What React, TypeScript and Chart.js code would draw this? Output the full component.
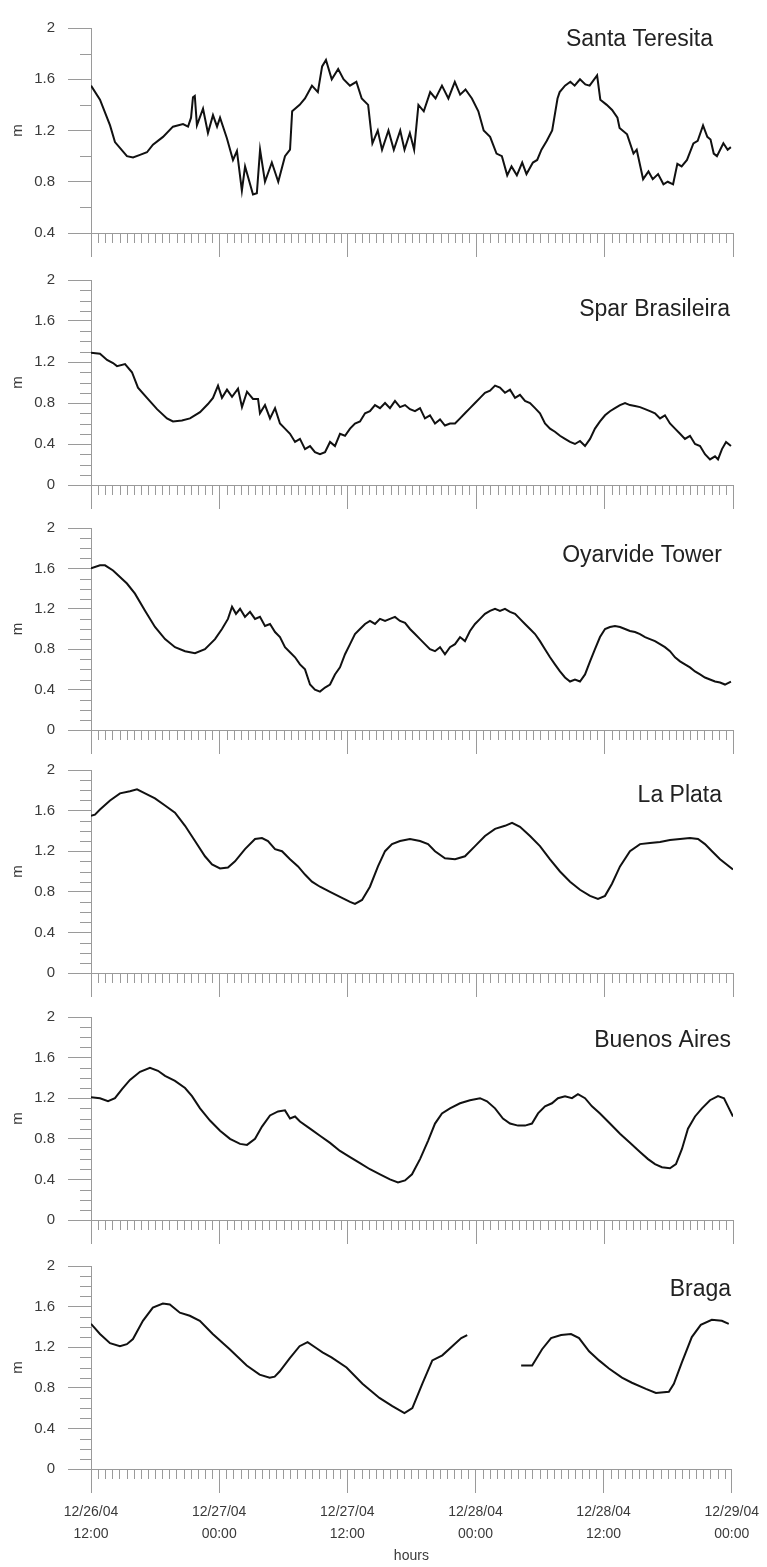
import React, { useEffect, useRef } from "react";
import { Chart, registerables } from "chart.js";

Chart.register(...registerables);

// ---------- data ----------
const X_TICK_HOURS = [0, 12, 24, 36, 48, 60];
const X_LABELS = [
  ["12/26/04", "12:00"],
  ["12/27/04", "00:00"],
  ["12/27/04", "12:00"],
  ["12/28/04", "00:00"],
  ["12/28/04", "12:00"],
  ["12/29/04", "00:00"],
];
const X_TITLE = "hours";
const Y_TITLE = "m";

const ST_H = [0, 0.84, 1.78, 2.24, 3.36, 3.93, 4.58, 5.23, 5.79, 6.73, 7.66, 8.6, 9.07, 9.35, 9.53, 9.7, 9.9, 10.47, 10.93, 11.4, 11.78, 12.06, 12.7, 13.27, 13.64, 14.1, 14.4, 15.14, 15.5, 15.8, 16.26, 16.9, 17.5, 18.13, 18.6, 18.8, 19.5, 20.0, 20.65, 21.2, 21.6, 21.96, 22.5, 23.1, 23.6, 24.2, 24.8, 25.3, 25.9, 26.3, 26.8, 27.2, 27.8, 28.3, 28.9, 29.3, 29.8, 30.2, 30.6, 31.1, 31.7, 32.2, 32.8, 33.4, 34.0, 34.5, 35.0, 35.6, 36.2, 36.7, 37.3, 37.9, 38.4, 38.9, 39.3, 39.8, 40.3, 40.7, 41.3, 41.7, 42.1, 42.6, 43.1, 43.6, 43.8, 44.3, 44.8, 45.2, 45.7, 46.2, 46.6, 47.3, 47.6, 48.2, 48.7, 49.2, 49.4, 50.1, 50.7, 51.0, 51.6, 52.1, 52.5, 53.0, 53.5, 53.9, 54.4, 54.8, 55.2, 55.7, 56.3, 56.7, 57.2, 57.6, 57.9, 58.2, 58.5, 59.1, 59.5, 59.8];
const ST_M = [1.55, 1.44, 1.24, 1.11, 1.0, 0.99, 1.01, 1.03, 1.09, 1.15, 1.23, 1.25, 1.23, 1.30, 1.46, 1.47, 1.24, 1.37, 1.18, 1.32, 1.23, 1.30, 1.14, 0.97, 1.04, 0.73, 0.92, 0.70, 0.71, 1.05, 0.80, 0.95, 0.80, 1.0, 1.05, 1.35, 1.40, 1.45, 1.55, 1.50, 1.70, 1.75, 1.60, 1.68, 1.60, 1.55, 1.58, 1.45, 1.40, 1.10, 1.20, 1.05, 1.20, 1.05, 1.20, 1.05, 1.18, 1.05, 1.40, 1.35, 1.50, 1.45, 1.55, 1.45, 1.58, 1.48, 1.52, 1.45, 1.35, 1.20, 1.15, 1.02, 1.0, 0.85, 0.92, 0.85, 0.95, 0.86, 0.95, 0.97, 1.05, 1.12, 1.2, 1.45, 1.5, 1.55, 1.58, 1.55, 1.6, 1.56, 1.55, 1.63, 1.44, 1.40, 1.36, 1.30, 1.22, 1.17, 1.02, 1.05, 0.82, 0.88, 0.82, 0.86, 0.78, 0.80, 0.78, 0.94, 0.92, 0.97, 1.1, 1.12, 1.24, 1.15, 1.13, 1.02, 1.0, 1.1, 1.05, 1.07];

const SB_H = [0, 0.84, 1.5, 2.06, 2.43, 3.18, 3.83, 4.39, 5.23, 6.17, 7.1, 7.66, 8.5, 9.25, 10.19, 10.93, 11.4, 11.87, 12.24, 12.71, 13.18, 13.74, 14.11, 14.58, 15.14, 15.61, 15.79, 16.26, 16.73, 17.2, 17.66, 18.13, 18.6, 19.07, 19.53, 20.0, 20.47, 20.93, 21.4, 21.87, 22.34, 22.8, 23.27, 23.74, 24.21, 24.67, 25.14, 25.61, 26.07, 26.54, 27.01, 27.48, 27.94, 28.41, 28.88, 29.35, 29.81, 30.28, 30.75, 31.21, 31.68, 32.15, 32.62, 33.08, 33.55, 34.02, 34.49, 34.95, 35.42, 35.89, 36.36, 36.82, 37.29, 37.76, 38.22, 38.69, 39.16, 39.63, 40.09, 40.56, 41.03, 41.5, 41.96, 42.43, 42.9, 43.36, 43.83, 44.3, 44.77, 45.23, 45.7, 46.17, 46.64, 47.1, 47.57, 48.04, 48.5, 48.97, 49.44, 49.91, 50.37, 50.84, 51.31, 51.78, 52.24, 52.71, 53.18, 53.64, 54.11, 54.58, 55.05, 55.51, 55.98, 56.45, 56.92, 57.38, 57.85, 58.32, 58.6, 58.97, 59.35, 59.81];
const SB_M = [1.29, 1.28, 1.22, 1.19, 1.16, 1.18, 1.10, 0.95, 0.85, 0.74, 0.65, 0.62, 0.63, 0.65, 0.71, 0.79, 0.85, 0.97, 0.85, 0.93, 0.86, 0.94, 0.76, 0.91, 0.84, 0.84, 0.70, 0.78, 0.65, 0.75, 0.6, 0.55, 0.5, 0.42, 0.45, 0.35, 0.38, 0.32, 0.30, 0.32, 0.42, 0.38, 0.5, 0.48, 0.55, 0.6, 0.62, 0.7, 0.72, 0.78, 0.75, 0.8, 0.75, 0.82, 0.76, 0.78, 0.74, 0.72, 0.75, 0.65, 0.68, 0.6, 0.64, 0.58, 0.6, 0.6, 0.65, 0.7, 0.75, 0.8, 0.85, 0.9, 0.92, 0.97, 0.95, 0.9, 0.93, 0.85, 0.88, 0.82, 0.8, 0.75, 0.7, 0.6, 0.55, 0.52, 0.48, 0.45, 0.42, 0.4, 0.43, 0.38, 0.45, 0.55, 0.62, 0.68, 0.72, 0.75, 0.78, 0.8, 0.78, 0.77, 0.76, 0.74, 0.72, 0.7, 0.65, 0.68, 0.6, 0.55, 0.5, 0.45, 0.48, 0.4, 0.38, 0.3, 0.25, 0.28, 0.25, 0.35, 0.42, 0.38];

const OY_H = [0, 0.84, 1.31, 2.06, 3.36, 4.11, 5.05, 5.98, 6.92, 7.85, 8.79, 9.72, 10.65, 11.59, 12.24, 12.8, 13.18, 13.55, 13.93, 14.39, 14.86, 15.33, 15.79, 16.26, 16.73, 17.2, 17.66, 18.13, 18.6, 19.07, 19.53, 20.0, 20.47, 20.93, 21.4, 21.87, 22.34, 22.8, 23.27, 23.74, 24.21, 24.67, 25.14, 25.61, 26.07, 26.54, 27.01, 27.48, 27.94, 28.41, 28.88, 29.35, 29.81, 30.28, 30.75, 31.21, 31.68, 32.15, 32.62, 33.08, 33.55, 34.02, 34.49, 34.95, 35.42, 35.89, 36.36, 36.82, 37.29, 37.76, 38.22, 38.69, 39.16, 39.63, 40.09, 40.56, 41.03, 41.5, 41.96, 42.43, 42.9, 43.36, 43.83, 44.3, 44.77, 45.23, 45.7, 46.17, 46.64, 47.1, 47.57, 48.04, 48.5, 48.97, 49.44, 49.91, 50.37, 50.84, 51.31, 51.78, 52.24, 52.71, 53.18, 53.64, 54.11, 54.58, 55.05, 55.51, 55.98, 56.45, 56.92, 57.38, 57.85, 58.32, 58.79, 59.25, 59.81];
const OY_M = [1.6, 1.63, 1.63, 1.58, 1.45, 1.35, 1.18, 1.02, 0.9, 0.82, 0.78, 0.76, 0.8, 0.9, 1.0, 1.1, 1.22, 1.15, 1.2, 1.12, 1.17, 1.1, 1.12, 1.03, 1.05, 0.97, 0.92, 0.82, 0.77, 0.72, 0.65, 0.6, 0.45, 0.4, 0.38, 0.42, 0.45, 0.55, 0.62, 0.75, 0.85, 0.95, 1.0, 1.05, 1.08, 1.05, 1.1, 1.08, 1.1, 1.12, 1.08, 1.06, 1.0, 0.95, 0.9, 0.85, 0.8, 0.78, 0.82, 0.75, 0.82, 0.85, 0.92, 0.88, 0.98, 1.05, 1.1, 1.15, 1.18, 1.2, 1.18, 1.2, 1.17, 1.15, 1.1, 1.05, 1.0, 0.95, 0.88, 0.8, 0.72, 0.65, 0.58, 0.52, 0.48, 0.5, 0.48, 0.55, 0.68, 0.8, 0.92, 1.0, 1.02, 1.03, 1.02, 1.0, 0.98, 0.97, 0.95, 0.92, 0.9, 0.88, 0.85, 0.82, 0.78, 0.72, 0.68, 0.65, 0.62, 0.58, 0.55, 0.52, 0.5, 0.48, 0.47, 0.45, 0.48];

const LP_H = [0, 0.37, 0.84, 1.78, 2.71, 3.64, 4.3, 5.05, 5.98, 6.92, 7.85, 8.79, 9.72, 10.65, 11.31, 12.06, 12.8, 13.46, 14.39, 15.33, 15.98, 16.54, 17.2, 17.85, 18.6, 19.35, 20.0, 20.65, 21.4, 22.34, 23.27, 24.21, 24.67, 25.33, 26.07, 26.82, 27.48, 28.13, 28.88, 29.81, 30.75, 31.5, 32.15, 33.08, 34.02, 34.95, 35.89, 36.82, 37.76, 38.69, 39.35, 40.09, 41.03, 41.96, 42.9, 43.83, 44.77, 45.7, 46.64, 47.38, 48.04, 48.69, 49.44, 50.37, 51.31, 52.24, 53.18, 54.11, 55.05, 55.98, 56.73, 57.38, 58.04, 58.79, 60];
const LP_M = [1.55, 1.56, 1.61, 1.70, 1.77, 1.79, 1.81, 1.77, 1.72, 1.65, 1.58, 1.45, 1.30, 1.15, 1.07, 1.03, 1.04, 1.10, 1.22, 1.32, 1.33, 1.30, 1.22, 1.20, 1.12, 1.05, 0.97, 0.90, 0.85, 0.80, 0.75, 0.70, 0.68, 0.72, 0.85, 1.05, 1.20, 1.27, 1.30, 1.32, 1.30, 1.27, 1.20, 1.13, 1.12, 1.15, 1.25, 1.35, 1.42, 1.45, 1.48, 1.44, 1.35, 1.25, 1.12, 1.00, 0.90, 0.82, 0.76, 0.73, 0.76, 0.88, 1.05, 1.20, 1.27, 1.28, 1.29, 1.31, 1.32, 1.33, 1.32, 1.27, 1.20, 1.12, 1.02];

const BA_H = [0, 0.84, 1.59, 2.24, 2.9, 3.64, 4.58, 5.51, 6.26, 6.92, 7.85, 8.79, 9.44, 10.19, 11.12, 12.06, 12.99, 13.93, 14.58, 15.33, 15.98, 16.73, 17.48, 18.13, 18.6, 19.07, 19.53, 20.47, 21.4, 22.34, 23.27, 24.21, 25.14, 26.07, 27.01, 27.94, 28.69, 29.35, 30.0, 30.75, 31.5, 32.15, 32.8, 33.55, 34.49, 35.42, 36.36, 37.01, 37.76, 38.5, 39.16, 39.91, 40.56, 41.21, 41.78, 42.43, 43.08, 43.64, 44.3, 44.95, 45.51, 46.17, 46.82, 47.57, 48.5, 49.44, 50.37, 51.31, 52.06, 52.71, 53.36, 54.11, 54.67, 55.23, 55.79, 56.45, 57.1, 57.85, 58.6, 59.16, 59.53, 60];
const BA_M = [1.21, 1.20, 1.17, 1.20, 1.29, 1.38, 1.46, 1.50, 1.47, 1.42, 1.37, 1.30, 1.22, 1.10, 0.98, 0.88, 0.80, 0.75, 0.74, 0.80, 0.92, 1.03, 1.07, 1.08, 1.00, 1.02, 0.97, 0.90, 0.83, 0.76, 0.68, 0.62, 0.56, 0.50, 0.45, 0.40, 0.37, 0.39, 0.45, 0.60, 0.78, 0.95, 1.05, 1.10, 1.15, 1.18, 1.20, 1.17, 1.10, 1.00, 0.95, 0.93, 0.93, 0.95, 1.05, 1.12, 1.15, 1.20, 1.22, 1.20, 1.24, 1.20, 1.12, 1.05, 0.95, 0.85, 0.76, 0.67, 0.60, 0.55, 0.52, 0.51, 0.55, 0.70, 0.90, 1.02, 1.10, 1.18, 1.22, 1.20, 1.12, 1.02];

const BR_H = [0, 0.84, 1.78, 2.71, 3.36, 3.93, 4.86, 5.79, 6.73, 7.38, 8.32, 9.25, 10.19, 11.4, 12.99, 14.58, 15.79, 16.73, 17.2, 17.66, 18.6, 19.53, 20.28, 21.12, 21.68, 22.52, 23.93, 25.42, 27.01, 28.22, 29.35, 30.09, 31.03, 31.96, 32.9, 33.83, 34.67, 35.23, 37.5, 40.28, 41.31, 42.24, 43.08, 44.02, 44.95, 45.7, 46.64, 47.57, 48.5, 49.72, 50.65, 51.96, 52.9, 54.11, 54.58, 55.33, 56.26, 57.1, 58.13, 59.07, 59.72];
const BR_M = [1.43, 1.33, 1.24, 1.21, 1.23, 1.28, 1.46, 1.59, 1.63, 1.62, 1.54, 1.51, 1.46, 1.33, 1.18, 1.02, 0.93, 0.90, 0.91, 0.96, 1.09, 1.21, 1.25, 1.19, 1.15, 1.10, 1.00, 0.84, 0.70, 0.62, 0.55, 0.60, 0.84, 1.07, 1.12, 1.21, 1.29, 1.32, null, 1.02, 1.02, 1.18, 1.29, 1.32, 1.33, 1.29, 1.16, 1.07, 0.99, 0.90, 0.85, 0.79, 0.75, 0.76, 0.84, 1.05, 1.30, 1.42, 1.47, 1.46, 1.43];

const STATIONS = ["Santa Teresita", "Spar Brasileira", "Oyarvide Tower", "La Plata", "Buenos Aires", "Braga"];
const SERIES_HOURS = [ST_H, SB_H, OY_H, LP_H, BA_H, BR_H];
const SERIES_VALUES = [ST_M, SB_M, OY_M, LP_M, BA_M, BR_M];
const Y_MIN = [0.4, 0, 0, 0, 0, 0];
const Y_MAX = [2, 2, 2, 2, 2, 2];

// ---------- layout (pixels) ----------
const PAGE_W = 767;
const PAGE_H = 1567;
const PLOT_LEFT = 91;
const PLOT_RIGHT = 733;
const PAD_TOP = 12;
const PANEL_TOP = [18, 270, 518, 760, 1007, 1256];
const PANEL_BOTTOM = [233, 485, 730, 973, 1220, 1469];
const MINOR_Y_STEP = [0.2, 0.1, 0.1, 0.1, 0.1, 0.1];
const TITLE_RIGHT = [713, 730, 722, 722, 731, 731];
const TITLE_DY = [12, 30, 28, 26, 24, 24];

const AXIS_COLOR = "#9a9a9a";
const TEXT_COLOR = "#3a3a3a";
const FONT = "'Liberation Sans', Arial, Helvetica, sans-serif";

function Panel({ idx }: { idx: number }) {
  const ref = useRef<HTMLCanvasElement | null>(null);
  const isLast = idx === STATIONS.length - 1;
  const top = PANEL_TOP[idx];
  const bottom = PANEL_BOTTOM[idx];
  const xAxisH = isLast ? PAGE_H - bottom : 26;
  const canvasTop = top - PAD_TOP;
  const canvasH = PAD_TOP + (bottom - top) + xAxisH;

  useEffect(() => {
    const canvas = ref.current;
    if (!canvas) return;
    const hours = SERIES_HOURS[idx];
    const values = SERIES_VALUES[idx];
    const points = hours.map((h, i) => ({ x: h, y: values[i] as number | null }));

    const decor = {
      id: "decor" + idx,
      afterDraw(chart: any) {
        const { ctx, chartArea } = chart;
        const xs = chart.scales.x;
        const ys = chart.scales.y;
        ctx.save();
        ctx.strokeStyle = AXIS_COLOR;
        ctx.lineWidth = 1;
        ctx.beginPath();
        // minor x ticks every 40 minutes
        for (let k = 0; k <= 90; k++) {
          if (k % 18 === 0) continue;
          const px = Math.round(xs.getPixelForValue((k * 2) / 3)) + 0.5;
          ctx.moveTo(px, chartArea.bottom);
          ctx.lineTo(px, chartArea.bottom + 10);
        }
        // minor y ticks
        const step = MINOR_Y_STEP[idx];
        const n0 = Math.round(ys.min / step);
        const n1 = Math.round(ys.max / step);
        for (let k = n0; k <= n1; k++) {
          const v = k * step;
          if (Math.abs(v / 0.4 - Math.round(v / 0.4)) < 1e-6) continue;
          const py = Math.round(ys.getPixelForValue(v)) + 0.5;
          ctx.moveTo(chartArea.left - 11, py);
          ctx.lineTo(chartArea.left, py);
        }
        ctx.stroke();
        // station name
        ctx.fillStyle = "#222";
        ctx.font = `23px ${FONT}`;
        ctx.textAlign = "right";
        ctx.textBaseline = "middle";
        ctx.fillText(STATIONS[idx], TITLE_RIGHT[idx], chartArea.top + TITLE_DY[idx]);
        ctx.restore();
      },
    };

    const chart = new Chart(canvas, {
      type: "line",
      data: {
        datasets: [
          {
            data: points as any,
            borderColor: "#111",
            borderWidth: 2,
            pointRadius: 0,
            tension: 0,
            spanGaps: false,
            fill: false,
          },
        ],
      },
      options: {
        animation: false,
        responsive: false,
        maintainAspectRatio: false,
        devicePixelRatio: 1,
        events: [],
        layout: { padding: { left: 0, right: PAGE_W - PLOT_RIGHT, top: PAD_TOP, bottom: 0 } },
        plugins: { legend: { display: false }, tooltip: { enabled: false }, title: { display: false } },
        scales: {
          x: {
            type: "linear",
            min: 0,
            max: 60,
            afterBuildTicks: (s: any) => {
              s.ticks = X_TICK_HOURS.map((v) => ({ value: v }));
            },
            ticks: {
              display: isLast,
              autoSkip: false,
              maxRotation: 0,
              minRotation: 0,
              padding: 8,
              color: TEXT_COLOR,
              font: { family: FONT, size: 14, lineHeight: 22 / 14 },
              callback: (v: any) => X_LABELS[X_TICK_HOURS.indexOf(Math.round(Number(v)))] || "",
            },
            grid: { display: true, drawOnChartArea: false, drawTicks: true, tickLength: 24, color: AXIS_COLOR, lineWidth: 1 },
            border: { display: true, color: AXIS_COLOR, width: 1 },
            title: {
              display: isLast,
              text: X_TITLE,
              color: TEXT_COLOR,
              font: { family: FONT, size: 14 },
              padding: { top: 0, bottom: 2 },
            },
            afterFit: (s: any) => {
              s.height = xAxisH;
            },
          },
          y: {
            type: "linear",
            min: Y_MIN[idx],
            max: Y_MAX[idx],
            afterBuildTicks: (s: any) => {
              const t = [];
              for (let k = Math.round(Y_MIN[idx] / 0.4); k <= Math.round(Y_MAX[idx] / 0.4); k++) t.push({ value: Math.round(k * 4) / 10 });
              s.ticks = t;
            },
            ticks: {
              padding: 13,
              color: TEXT_COLOR,
              font: { family: FONT, size: 15 },
              callback: (v: any) => String(Math.round(Number(v) * 10) / 10),
            },
            grid: { display: true, drawOnChartArea: false, drawTicks: true, tickLength: 23, color: AXIS_COLOR, lineWidth: 1 },
            border: { display: true, color: AXIS_COLOR, width: 1 },
            title: {
              display: true,
              text: Y_TITLE,
              color: TEXT_COLOR,
              font: { family: FONT, size: 15 },
              padding: { top: 9, bottom: 0 },
            },
            afterFit: (s: any) => {
              s.width = PLOT_LEFT;
            },
          },
        },
      },
      plugins: [decor],
    } as any);
    return () => chart.destroy();
  }, [idx]);

  return (
    <canvas
      ref={ref}
      width={PAGE_W}
      height={canvasH}
      style={{ position: "absolute", left: 0, top: canvasTop, width: PAGE_W, height: canvasH }}
    />
  );
}

export default function App() {
  return (
    <div style={{ position: "absolute", left: 0, top: 0, width: PAGE_W, height: PAGE_H, background: "#fff" }}>
      {STATIONS.map((_, i) => (
        <Panel key={i} idx={i} />
      ))}
    </div>
  );
}
